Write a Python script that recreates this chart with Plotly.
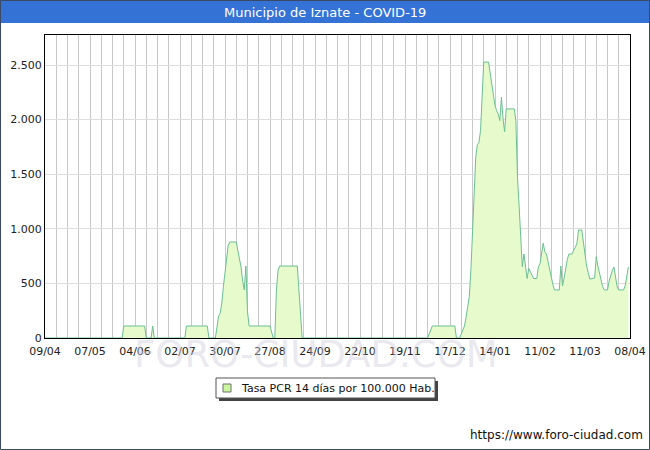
import datetime as dt
import plotly.graph_objects as go

# ---- data ----
start_date = dt.date(2020, 4, 9)
day_offsets = [0, 48, 49, 62, 63, 66, 67, 68, 87, 88, 101, 102,
               106, 107, 108, 109, 110, 111, 112, 113, 114, 115, 119, 120, 121, 122, 123, 124, 125, 126, 127,
               140, 142, 143, 144, 145, 146, 157, 158, 159, 160,
               238, 241, 255, 256, 258, 261, 262, 263, 264, 265, 266, 267, 268, 269, 270, 271, 272, 273,
               276, 277, 278, 279, 280, 281, 282, 283, 284, 285, 286, 287, 292, 293, 294, 295, 296, 297,
               298, 299, 300, 301, 302, 303, 304, 306, 307, 308, 309, 310, 311, 312, 313, 314, 315, 316,
               317, 320, 321, 322, 323, 324, 325, 326, 328, 329, 330, 331, 332, 334, 335, 336, 337, 338,
               339, 342, 343, 344, 345, 346, 347, 348, 350, 351, 352, 353, 354, 355, 356, 357, 360, 361,
               362, 363]
rate_values = [0, 0, 110, 110, 0, 0, 110, 0, 0, 110, 110, 0,
               0, 120, 200, 225, 320, 470, 580, 700, 850, 879, 879, 800, 730, 650, 520, 440, 659, 240, 110,
               110, 0, 0, 440, 620, 659, 659, 440, 220, 0,
               0, 110, 110, 0, 0, 110, 190, 280, 380, 620, 990, 1300, 1650, 1770, 1790, 1900, 2280, 2527,
               2527, 2420, 2330, 2250, 2129, 2083, 2052, 1991, 2206, 2006, 1890, 2098, 2098, 1990, 1468, 1206, 868, 652,
               769, 652, 545, 637, 606, 572, 545, 545, 652, 681, 790, 869, 790, 769, 700, 620, 540, 490,
               440, 440, 659, 478, 549, 659, 720, 769, 769, 806, 830, 869, 989, 989, 869, 744, 659, 600,
               540, 549, 744, 659, 587, 525, 470, 440, 440, 520, 580, 620, 650, 572, 470, 440, 440, 480,
               560, 650]
tick_offsets = [0, 28, 56, 84, 112, 140, 168, 196, 224, 252, 280, 308, 336, 364]
tick_labels = ["09/04", "07/05", "04/06", "02/07", "30/07", "27/08", "24/09",
               "22/10", "19/11", "17/12", "14/01", "11/02", "11/03", "08/04"]
y_ticks = [0, 500, 1000, 1500, 2000, 2500]
series_name = "Tasa PCR 14 días por 100.000 Hab."

dates = [start_date + dt.timedelta(days=d) for d in day_offsets]
tick_dates = [start_date + dt.timedelta(days=d) for d in tick_offsets]
end_date = start_date + dt.timedelta(days=364)

FONT = "DejaVu Sans"

fig = go.Figure()
fig.add_trace(go.Scatter(
    x=dates, y=rate_values, mode="lines",
    line=dict(color="#6cbf94", width=1),
    fill="tozeroy", fillcolor="#e6facc",
    showlegend=False, hoverinfo="skip"))

W, H = 650, 450
ml, mr, mt, mb = 45, 20, 35, 112
pw, ph = W - ml - mr, H - mt - mb

def px(x):
    return (x - ml) / pw

def py(y):
    return (H - mb - y) / ph

shapes = [
    # title bar
    dict(type="rect", xref="paper", yref="paper", x0=px(0), x1=px(W), y0=py(23), y1=py(0),
         fillcolor="#3572d6", line=dict(width=0), layer="below"),
    # outer frame
    dict(type="rect", xref="paper", yref="paper", x0=px(0.5), x1=px(W - 0.5), y0=py(H - 0.5), y1=py(0.5),
         fillcolor="rgba(0,0,0,0)", line=dict(color="#3a4a66", width=1)),
    # legend shadow
    dict(type="rect", xref="paper", yref="paper", x0=px(219), x1=px(438), y0=py(401), y1=py(381),
         fillcolor="#444444", line=dict(width=0)),
    # legend box
    dict(type="rect", xref="paper", yref="paper", x0=px(216), x1=px(435), y0=py(398), y1=py(378),
         fillcolor="white", line=dict(color="#555555", width=1)),
    # legend swatch
    dict(type="rect", xref="paper", yref="paper", x0=px(223), x1=px(231), y0=py(392), y1=py(384),
         fillcolor="#ccf5a0", line=dict(color="#707070", width=1)),
]

annotations = [
    dict(text="Municipio de Iznate - COVID-19", xref="paper", yref="paper",
         x=px(W / 2), y=py(12), showarrow=False,
         font=dict(family=FONT, size=13, color="white"), xanchor="center", yanchor="middle"),
    dict(text="FORO-CIUDAD.COM", xref="paper", yref="paper", x=px(316), y=py(354),
         showarrow=False, font=dict(family=FONT, size=37, color="rgba(205,205,220,0.45)"),
         xanchor="center", yanchor="middle"),
    dict(text=series_name, xref="paper", yref="paper", x=px(239), y=py(388),
         showarrow=False, font=dict(family=FONT, size=11, color="#111111"),
         xanchor="left", yanchor="middle"),
    dict(text="https://www.foro-ciudad.com", xref="paper", yref="paper", x=px(645), y=py(435),
         showarrow=False, font=dict(family=FONT, size=12, color="#111111"),
         xanchor="right", yanchor="middle"),
]

fig.update_layout(
    width=W, height=H,
    margin=dict(l=ml, r=mr, t=mt, b=mb, autoexpand=False),
    paper_bgcolor="white", plot_bgcolor="white",
    separators=",.",
    showlegend=False,
    font=dict(family=FONT, size=11, color="#222222"),
    shapes=shapes, annotations=annotations,
    xaxis=dict(type="date", range=[start_date, end_date],
               tickvals=tick_dates, ticktext=tick_labels, tickangle=0,
               showgrid=True, gridcolor="#c8c8c8", gridwidth=1,
               minor=dict(dtick=7 * 86400000, tick0=start_date, showgrid=True,
                          gridcolor="#c8c8c8", gridwidth=1),
               showline=True, linecolor="black", linewidth=1, mirror=True,
               ticks="", ticklen=0, ticklabelstandoff=3, zeroline=False,
               tickfont=dict(family=FONT, size=11, color="#222222")),
    yaxis=dict(range=[0, 2775], tickvals=y_ticks, tickformat=",d",
               showgrid=True, gridcolor="#dddddd", gridwidth=1,
               showline=True, linecolor="black", linewidth=1, mirror=True,
               ticks="", zeroline=False,
               tickfont=dict(family=FONT, size=11, color="#222222")),
)

fig.write_html("out.html", config={"displayModeBar": False},
               post_script="document.body.style.margin='0';document.body.style.overflow='hidden';")
